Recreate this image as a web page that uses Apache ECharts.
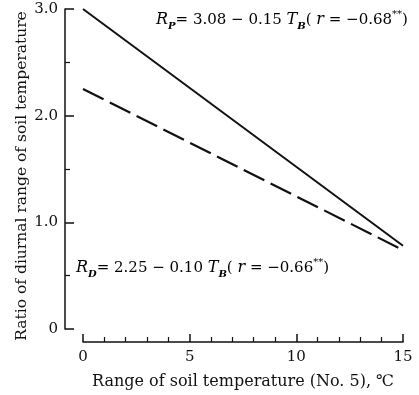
<!DOCTYPE html>
<html>
<head>
<meta charset="utf-8">
<script src="https://cdn.jsdelivr.net/npm/echarts@6/dist/echarts.min.js"></script>
<style>
  html, body { margin: 0; padding: 0; background: #fff; }
  #chart { width: 419px; height: 395px; }
</style>
</head>
<body>
<div id="chart"></div>
<script>
// values
const rpLine = [[0, 3.0], [15, 0.78]];
const rdLine = [[0, 2.25], [15, 0.74]];
const yTickLabels = { 0: '0', 1: '1.0', 2: '2.0', 3: '3.0' };

const FONT = '"DejaVu Serif", "Liberation Serif", serif';
const INK = '#111';

const rich = {
  n: { fontSize: 15, fontFamily: FONT, color: INK, verticalAlign: 'middle', lineHeight: 22 },
  i: { fontSize: 16, fontFamily: FONT, fontStyle: 'italic', color: INK, verticalAlign: 'middle', lineHeight: 22 },
  sub: { fontSize: 10, fontFamily: FONT, fontStyle: 'italic', fontWeight: 'bold', color: INK, verticalAlign: 'bottom', lineHeight: 22 },
  sup: { fontSize: 10, fontFamily: FONT, color: INK, verticalAlign: 'top', lineHeight: 22 }
};

const chart = echarts.init(document.getElementById('chart'));
chart.setOption({
  backgroundColor: '#fff',
  animation: false,
  grid: { left: 83, right: 16, top: 9, bottom: 66 },
  xAxis: {
    type: 'value',
    min: 0,
    max: 15,
    interval: 5,
    offset: 13,
    name: 'Range of soil temperature (No. 5), \u2103',
    nameLocation: 'middle',
    nameGap: 32,
    nameTextStyle: { fontSize: 16, fontFamily: FONT, color: INK },
    axisLine: { onZero: false, lineStyle: { color: INK, width: 1.5 } },
    axisTick: { inside: true, length: 8, lineStyle: { color: INK, width: 1.5 } },
    minorTick: { show: true, splitNumber: 5, length: 5, lineStyle: { color: INK, width: 1.2 } },
    axisLabel: { fontSize: 15, fontFamily: FONT, color: INK, margin: 8 },
    splitLine: { show: false }
  },
  yAxis: {
    type: 'value',
    min: 0,
    max: 3,
    interval: 1,
    offset: 18,
    axisLine: { show: true, onZero: false, lineStyle: { color: INK, width: 1.5 } },
    axisTick: { inside: true, length: 9, lineStyle: { color: INK, width: 1.5 } },
    minorTick: { show: true, splitNumber: 2, length: 5, lineStyle: { color: INK, width: 1.2 } },
    axisLabel: {
      fontSize: 15, fontFamily: FONT, color: INK, margin: 7,
      formatter: v => yTickLabels[v] ?? ''
    },
    splitLine: { show: false }
  },
  series: [
    {
      name: 'RP',
      type: 'line',
      data: rpLine,
      symbol: 'none',
      clip: false,
      lineStyle: { color: INK, width: 2 }
    },
    {
      name: 'RD',
      type: 'line',
      data: rdLine,
      symbol: 'none',
      clip: false,
      lineStyle: { color: INK, width: 2.2, type: [23, 7] }
    }
  ],
  graphic: [
    {
      // y axis title, placed by hand so it sits a bit lower like the scan
      type: 'text',
      x: 22,
      y: 176,
      rotation: Math.PI / 2,
      style: {
        text: 'Ratio of diurnal range of soil temperature',
        fontSize: 15.5,
        fontFamily: FONT,
        fill: INK,
        align: 'center',
        verticalAlign: 'middle'
      }
    },
    {
      type: 'text',
      left: 156,
      top: 9,
      style: {
        text: '{i|R}{sub|P}{n|= 3.08 \u2212 0.15 }{i|T}{sub|B}{n|( }{i|r}{n| = \u22120.68}{sup|**}{n|)}',
        rich
      }
    },
    {
      type: 'text',
      left: 76,
      top: 257,
      style: {
        text: '{i|R}{sub|D}{n|= 2.25 \u2212 0.10 }{i|T}{sub|B}{n|( }{i|r}{n| = \u22120.66}{sup|**}{n|)}',
        rich
      }
    }
  ]
});
</script>
</body>
</html>
